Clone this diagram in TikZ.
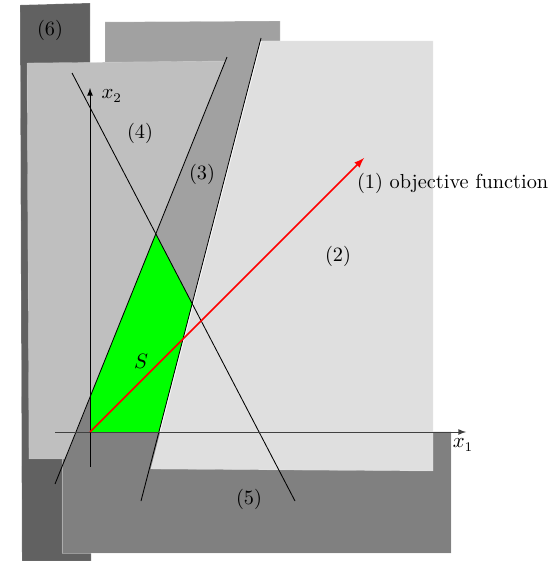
\documentclass[tikz,border=0pt]{standalone}
\usepackage{amsmath,amssymb}
\usepackage{tikz}

\begin{document}
\begin{tikzpicture}[>=latex, every node/.style={font=\fontsize{10.7}{12.8}\selectfont},
  region/.style={draw=white, draw opacity=0.35, line width=0.2pt},
  bound/.style={black, line width=0.45pt}]
\useasboundingbox (-1.667,-2.389) rectangle (8.630,8.0);
% constraint lines
\coordinate (a1) at (2.537,6.944);
\coordinate (a2) at (-0.648,-0.963);
\coordinate (b1) at (3.167,7.296);
\coordinate (b2) at (0.944,-1.278);
\coordinate (c1) at (-0.333,6.648);
\coordinate (c2) at (3.796,-1.278);
\coordinate (o) at (0,0);
\coordinate (x1s) at (-0.648,0);
\coordinate (x1e) at (6.963,0);
\coordinate (x2s) at (0,-0.648);
\coordinate (x2e) at (0,6.370);
% shaded half planes
\fill[black!62, region] (-1.296,7.907) -- (0,7.944) -- (0.019,-2.389) -- (-1.259,-2.389) -- cycle;
\fill[black!37, region] (0.278,7.593) -- (3.519,7.611) -- (3.519,7.241) -- (3.152,7.241)
  -- (1.275,0) -- (-0.259,0) -- (0.278,5) -- cycle;
\fill[black!50, region] (-0.519,-2.241) -- (-0.519,0.63) -- (0,0.63) -- (o) -- (6.685,0)
  -- (6.685,-2.241) -- cycle;
\fill[black!25, region] (-1.167,6.833) -- (2.508,6.87) -- (-0.46,-0.5) -- (-1.13,-0.5) -- cycle;
\fill[black!12.5, region] (3.18,7.241) -- (6.352,7.241) -- (6.352,-0.722) -- (1.125,-0.685) -- cycle;
% feasible set
\fill[green] (o) -- (intersection of a1--a2 and x2s--x2e) -- (intersection of a1--a2 and c1--c2)
  -- (intersection of b1--b2 and c1--c2) -- (intersection of b1--b2 and x1s--x1e) -- cycle;
\draw[bound] (a1) -- (a2);
\draw[bound] (b1) -- (b2);
\draw[bound] (c1) -- (c2);
% axes
\draw[->, black!75] (x1s) -- (x1e);
\draw[->] (x2s) -- (x2e);
\node[anchor=west] (x2lab) at (0.09,6.222) {$x_2$};
\node (x1lab) at (6.907,-0.241) {$x_1$};
% objective
\coordinate (obj) at (5.074,5.074);
\draw[->, red, thick] (o) -- (obj);
\node[anchor=west] (objlab) at (4.82,4.60) {(1) objective function};
\node (l2) at (4.593,3.259) {(2)};
\node (l3) at (2.074,4.778) {(3)};
\node (l4) at (0.926,5.537) {(4)};
\node (l5) at (2.944,-1.241) {(5)};
\node (l6) at (-0.741,7.444) {(6)};
\node (S) at (0.944,1.315) {$S$};
\end{tikzpicture}
\end{document}
